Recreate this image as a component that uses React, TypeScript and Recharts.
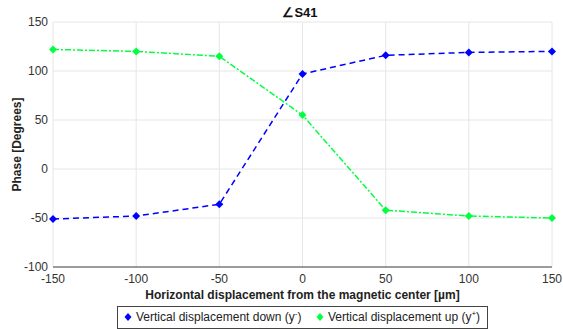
import { LineChart, Line, XAxis, YAxis, CartesianGrid } from "recharts";

const displacement = [-150, -100, -50, 0, 50, 100, 150];
const phaseDown = [-51, -48, -36, 97, 116, 119, 120];
const phaseUp = [122, 120, 115, 55, -42, -48, -50];
const xTicks = [-150, -100, -50, 0, 50, 100, 150];
const yTicks = [-100, -50, 0, 50, 100, 150];

const BLUE = "#0000ff";
const GREEN = "#00ff40";
const FONT = "'Liberation Sans', Arial, sans-serif";

const data = displacement.map((x, i) => ({ x, down: phaseDown[i], up: phaseUp[i] }));

function Diamond(props: any) {
  const { cx, cy, fill } = props;
  if (cx == null || cy == null) return null;
  const s = 4;
  return <path d={`M${cx},${cy - s}L${cx + s},${cy}L${cx},${cy + s}L${cx - s},${cy}Z`} fill={fill} />;
}

function LegendIcon({ color }: { color: string }) {
  return (
    <svg width={8} height={10} style={{ marginRight: 4, verticalAlign: "-1px" }}>
      <path d="M4,1L7.5,5L4,9L0.5,5Z" fill={color} />
    </svg>
  );
}

export default function App() {
  const tick = { fontSize: 12, fill: "#333", fontFamily: FONT };
  return (
    <div style={{ position: "absolute", left: 0, top: 0, width: 563, height: 329, background: "#fff", fontFamily: FONT }}>
      <div style={{ position: "absolute", left: 0, width: 600, top: 5, textAlign: "center", fontSize: 13, fontWeight: "bold", color: "#111" }}>
        ∠S41
      </div>
      <LineChart width={563} height={329} data={data} margin={{ top: 22, right: 11, left: 0, bottom: 0 }}>
        <CartesianGrid stroke="#e6e6e6" />
        <XAxis
          dataKey="x"
          type="number"
          domain={[-150, 150]}
          ticks={xTicks}
          tick={tick}
          tickLine={false}
          tickSize={5}
          axisLine={{ stroke: "#444" }}
          height={62}
          label={{
            value: "Horizontal displacement from the magnetic center [µm]",
            position: "insideBottom",
            offset: 30,
            style: { fontSize: 12, fontWeight: "bold", fill: "#222", fontFamily: FONT },
          }}
        />
        <YAxis
          type="number"
          domain={[-100, 150]}
          ticks={yTicks}
          tick={tick}
          tickLine={false}
          tickSize={3}
          axisLine={false}
          width={53}
          label={{
            content: ({ viewBox }: any) => (
              <text
                x={17}
                y={viewBox.y + viewBox.height / 2}
                transform={`rotate(-90, 17, ${viewBox.y + viewBox.height / 2})`}
                textAnchor="middle"
                dominantBaseline="central"
                style={{ fontSize: 12, fontWeight: "bold", fill: "#222", fontFamily: FONT }}
              >
                Phase [Degrees]
              </text>
            ),
          }}
        />
        <Line
          dataKey="down"
          stroke={BLUE}
          strokeWidth={1.5}
          strokeDasharray="6 4"
          dot={<Diamond fill={BLUE} />}
          isAnimationActive={false}
        />
        <Line
          dataKey="up"
          stroke={GREEN}
          strokeWidth={1.5}
          strokeDasharray="6 2 2 2"
          dot={<Diamond fill={GREEN} />}
          isAnimationActive={false}
        />
      </LineChart>
      <div
        style={{
          position: "absolute",
          left: 117,
          top: 306,
          width: 369,
          height: 21,
          border: "1px solid #444",
          boxSizing: "content-box",
          fontSize: 12,
          color: "#222",
          lineHeight: "21px",
          whiteSpace: "nowrap",
        }}
      >
        <span style={{ position: "absolute", left: 6 }}>
          <LegendIcon color={BLUE} />
          Vertical displacement down (y<sup style={{ fontSize: 8, lineHeight: 0 }}>-</sup>)
        </span>
        <span style={{ position: "absolute", left: 198 }}>
          <LegendIcon color={GREEN} />
          Vertical displacement up (y<sup style={{ fontSize: 8, lineHeight: 0 }}>+</sup>)
        </span>
      </div>
    </div>
  );
}
